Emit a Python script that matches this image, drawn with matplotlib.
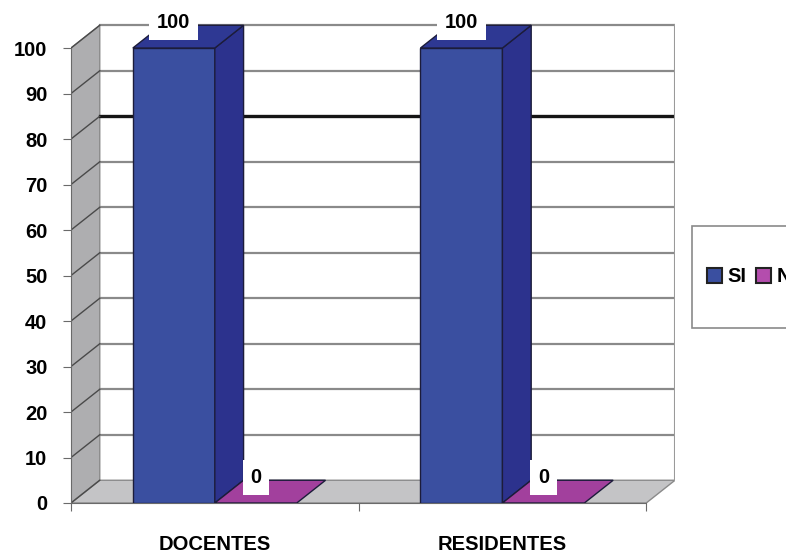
import matplotlib
matplotlib.use("Agg")
import matplotlib.pyplot as plt
from matplotlib.patches import Polygon, Rectangle, Patch

plt.rcParams['font.family'] = ['Liberation Sans', 'DejaVu Sans']
plt.rcParams['font.weight'] = 'bold'

# --- data ---
categories = ['DOCENTES', 'RESIDENTES']
series_names = ['SI', 'NO']
si_values = [100, 100]
no_values = [0, 0]
y_ticks = [0, 10, 20, 30, 40, 50, 60, 70, 80, 90, 100]

# --- style ---
front_cols = {'SI': '#3a4fa0', 'NO': '#9c3b97'}
side_cols = {'SI': '#2c328d', 'NO': '#7e2c7b'}
top_cols = {'SI': '#2e3893', 'NO': '#a2409d'}
legend_cols = {'SI': '#3a4fa0', 'NO': '#b44dad'}
DX, DY = 0.1, 5.0      # fake depth offset (data units)
BW = 0.285             # bar width
FS = 14.5

fig = plt.figure(figsize=(7.86, 5.54), dpi=100)
ax = fig.add_axes([71/786, 51/554, 604/786, 480/554])
ax.set_xlim(0, 2 + DX)
ax.set_ylim(0, 100 + DY + 0.5)
ax.set_facecolor('none')

ymax = max(y_ticks)
ncat = len(categories)

# side wall and floor
ax.add_patch(Polygon([(0, 0), (0, ymax), (DX, ymax + DY), (DX, DY)],
                     closed=True, fc='#aeaeb0', ec='#8a8a8a', lw=1, zorder=1))
ax.add_patch(Polygon([(0, 0), (ncat, 0), (ncat + DX, DY), (DX, DY)],
                     closed=True, fc='#c4c4c6', ec='#8a8a8a', lw=1, zorder=1))

# grid on back wall + side wall
for v in y_ticks[1:]:
    if v == 80:
        col, lw = '#151515', 2.4
    else:
        col, lw = '#8a8a8a', 1.6
    ax.plot([DX, ncat + DX], [v + DY, v + DY], color=col, lw=lw, zorder=2)
for v in y_ticks:
    ax.plot([0, DX], [v, v + DY], color='#4a4a4a', lw=1, zorder=2)
ax.plot([ncat + DX, ncat + DX], [DY, ymax + DY], color='#9a9a9a', lw=1.5, zorder=2)


def draw_bar(x0, h, name):
    x1 = x0 + BW
    ec = '#1c1c3a'
    if h > 0:
        ax.add_patch(Polygon([(x0, 0), (x1, 0), (x1, h), (x0, h)], closed=True,
                             fc=front_cols[name], ec=ec, lw=1, zorder=3))
        ax.add_patch(Polygon([(x1, 0), (x1 + DX, DY), (x1 + DX, h + DY), (x1, h)],
                             closed=True, fc=side_cols[name], ec=ec, lw=1, zorder=3))
    ax.add_patch(Polygon([(x0, h), (x1, h), (x1 + DX, h + DY), (x0 + DX, h + DY)],
                         closed=True, fc=top_cols[name], ec=ec, lw=1, zorder=3))
    ax.text(x0 + BW / 2, h + 5.6, f"{h:g}", ha='center', va='center',
            fontsize=FS, fontweight='bold', zorder=5,
            bbox=dict(fc='white', ec='none', pad=5.5))


for i, cat in enumerate(categories):
    c = i + 0.5
    draw_bar(c - BW, si_values[i], 'SI')
    draw_bar(c, no_values[i], 'NO')

# axes
for s in ['top', 'right']:
    ax.spines[s].set_visible(False)
ax.spines['left'].set_bounds(0, ymax)
ax.spines['bottom'].set_bounds(0, ncat)
ax.spines['left'].set_color('#6a6a6a')
ax.spines['bottom'].set_color('#6a6a6a')
ax.set_yticks(y_ticks)
ax.set_yticklabels([str(t) for t in y_ticks], fontsize=FS, fontweight='bold')
ax.tick_params(axis='y', length=6, color='#6a6a6a', pad=11)
ax.set_xticks(range(ncat + 1))
ax.set_xticklabels([''] * (ncat + 1))
ax.set_xticks([i + 0.5 for i in range(ncat)], minor=True)
ax.set_xticklabels(categories, minor=True, fontsize=FS, fontweight='bold')
ax.tick_params(axis='x', which='major', length=6, color='#6a6a6a')
ax.tick_params(axis='x', which='minor', length=0, pad=23)

# legend box (runs past the right edge like the original)
fig.patches.append(Rectangle((692/786, (554-328)/554), 0.2, 102/554,
                             transform=fig.transFigure, fc='white', ec='#8a8a8a',
                             lw=1.2, zorder=0))
handles = [Patch(fc=legend_cols[n], ec='#222222', lw=1.5, label=n) for n in series_names]
fig.legend(handles=handles, loc='center left', bbox_to_anchor=(697/786, 277/554),
           ncol=2, frameon=False, borderpad=0, handlelength=0.75, handleheight=0.75,
           handletextpad=0.25, columnspacing=0.5,
           prop={'size': FS, 'weight': 'bold'})

fig.savefig('out.png', dpi=100)
